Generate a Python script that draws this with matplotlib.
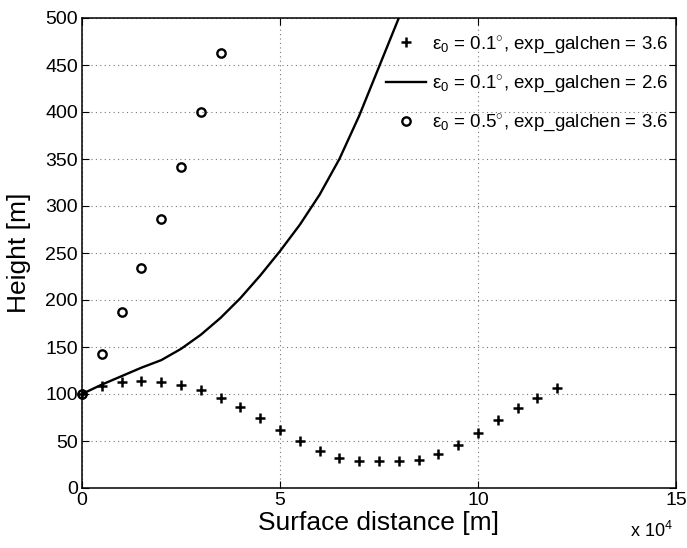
import matplotlib
matplotlib.use("Agg")
import matplotlib.pyplot as plt
from matplotlib.ticker import FuncFormatter, MultipleLocator

plt.rcParams['font.family'] = ['Liberation Sans', 'DejaVu Sans']
plt.rcParams['mathtext.fontset'] = 'custom'
plt.rcParams['mathtext.rm'] = 'Liberation Sans'
plt.rcParams['mathtext.it'] = 'Liberation Sans:italic'
plt.rcParams['mathtext.bf'] = 'Liberation Sans:bold'

# Surface distance in metres
dist_plus = [0, 5000, 10000, 15000, 20000, 25000, 30000, 35000, 40000, 45000,
             50000, 55000, 60000, 65000, 70000, 75000, 80000, 85000, 90000,
             95000, 100000, 105000, 110000, 115000, 120000]
height_plus = [100, 108, 113, 114, 113, 110, 104, 96, 86, 74,
               62, 50, 39, 32, 28.5, 28.3, 28.5, 30, 36,
               46, 59, 72, 85, 96, 106]

dist_line = [0, 5000, 10000, 15000, 20000, 25000, 30000, 35000, 40000,
             45000, 50000, 55000, 60000, 65000, 70000, 75000, 80000, 85000]
height_line = [100, 110, 119, 128, 136, 148, 163, 181, 202,
               226, 252, 280, 312, 350, 396, 448, 500, 556]

dist_circ = [0, 5000, 10000, 15000, 20000, 25000, 30000, 35000]
height_circ = [100, 143, 187, 234, 286, 342, 400, 463]

labels = [r"ε$_0$ = 0.1$^{\circ}$, exp_galchen = 3.6",
          r"ε$_0$ = 0.1$^{\circ}$, exp_galchen = 2.6",
          r"ε$_0$ = 0.5$^{\circ}$, exp_galchen = 3.6"]

fig = plt.figure(figsize=(6.87, 5.48), dpi=100)
ax = fig.add_axes([82 / 687, 60 / 548, 594 / 687, 470 / 548])

ax.plot(dist_plus, height_plus, linestyle='none', marker='+', color='black',
        markersize=7, markeredgewidth=1.8, label=labels[0], clip_on=False, zorder=3)
ax.plot(dist_line, height_line, color='black', linewidth=1.7, label=labels[1], zorder=2)
ax.plot(dist_circ, height_circ, linestyle='none', marker='o', color='black',
        markerfacecolor='none', markersize=6, markeredgewidth=1.7,
        label=labels[2], clip_on=False, zorder=3)

ax.set_xlim(0, 150000)
ax.set_ylim(0, 500)
ax.xaxis.set_major_locator(MultipleLocator(50000))
ax.yaxis.set_major_locator(MultipleLocator(50))
ax.xaxis.set_major_formatter(FuncFormatter(lambda v, p: f"{v / 1e4:g}"))

ax.grid(True, linestyle=(0, (1, 3)), color='#777777', linewidth=0.8)
ax.tick_params(direction='in', top=True, right=True, length=5, width=0.8,
               labelsize=14, pad=3)
for s in ax.spines.values():
    s.set_linewidth(1.1)

ax.set_xlabel("Surface distance [m]", fontsize=19, labelpad=1)
ax.set_ylabel("Height [m]", fontsize=19, labelpad=10)

fig.text(630 / 687, 1 - 537 / 548, r"x 10$^{4}$", fontsize=13, ha='left', va='baseline')

leg = ax.legend(loc='upper right', bbox_to_anchor=(1.0, 0.982), frameon=False,
                fontsize=13.5, handlelength=2.1, handletextpad=0.35,
                labelspacing=0.95, borderaxespad=0.0, markerscale=1.0)

fig.savefig("out.png", dpi=100)
